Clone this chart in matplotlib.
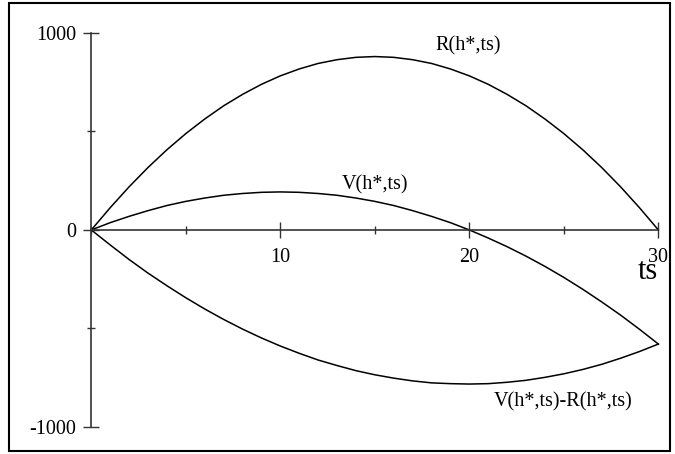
import matplotlib
matplotlib.use("Agg")
import matplotlib.pyplot as plt
from matplotlib.patches import Rectangle
from matplotlib.ticker import MultipleLocator
import numpy as np

# values, one per unit of ts
ts = list(range(0, 31))
r_vals = [0, 113, 219, 317, 407, 489, 563, 630, 688, 739, 782, 817, 845, 864, 876,
          880, 876, 864, 845, 817, 782, 739, 688, 630, 563, 489, 407, 317, 219, 113, 0]
v_vals = [0, 37, 69, 98, 124, 145, 162, 176, 185, 191, 193, 191, 185, 176, 162,
          145, 124, 98, 69, 37, 0, -41, -85, -133, -185, -241, -301, -365, -432, -504, -579]
diff_vals = list(np.array(v_vals) - np.array(r_vals))

x_ticks = [10, 20, 30]
y_ticks = [-1000, 0, 1000]
y_tick_labels = ["-1000", "0", "1000"]

plt.rcParams["font.family"] = ["Liberation Serif", "DejaVu Serif"]

fig = plt.figure(figsize=(6.75, 4.54), dpi=100)
ax = fig.add_axes([0, 0, 1, 1])
ax.set_xlim(-4.83, 30.88)
ax.set_ylim(-1137, 1167)

# curves
ax.plot(ts, r_vals, color="black", linewidth=1.1)
ax.plot(ts, v_vals, color="black", linewidth=1.1)
ax.plot(ts, diff_vals, color="black", linewidth=1.1)

# Maple-style axes crossing at the origin
for side in ["top", "right"]:
    ax.spines[side].set_visible(False)
ax.spines["left"].set_position(("data", 0))
ax.spines["bottom"].set_position(("data", 0))
ax.spines["left"].set_bounds(-1000, 1000)
ax.spines["bottom"].set_bounds(0, 30)
for side in ["left", "bottom"]:
    ax.spines[side].set_color("#333333")
    ax.spines[side].set_linewidth(1.2)

ax.set_xticks(x_ticks)
ax.set_xticklabels([str(t) for t in x_ticks])
ax.xaxis.set_minor_locator(MultipleLocator(5))
ax.set_yticks(y_ticks)
ax.set_yticklabels(y_tick_labels)
ax.yaxis.set_minor_locator(MultipleLocator(500))
ax.tick_params(which="major", direction="inout", length=11, width=1.0,
               colors="#333333", labelsize=14.5, labelcolor="black")
ax.tick_params(which="minor", direction="inout", length=6, width=1.0, colors="#333333")
ax.tick_params(axis="x", pad=7.5)
ax.tick_params(axis="y", pad=5.5)
ax.patch.set_visible(False)

# curve labels
ax.text(19.93, 934, "R(h*,ts)", fontsize=14.5, ha="center", va="center")
ax.text(15.0, 228, "V(h*,ts)", fontsize=14.5, ha="center", va="center")
ax.text(24.94, -873, "V(h*,ts)-R(h*,ts)", fontsize=14.5, ha="center", va="center")
ax.text(29.45, -213, "ts", fontsize=22, ha="center", va="center")

# outer frame
fig.patches.append(Rectangle((9 / 675, 3 / 454), 661 / 675, 448 / 454,
                             transform=fig.transFigure, fill=False,
                             edgecolor="black", linewidth=1.5))

fig.savefig("out.png", dpi=100)
